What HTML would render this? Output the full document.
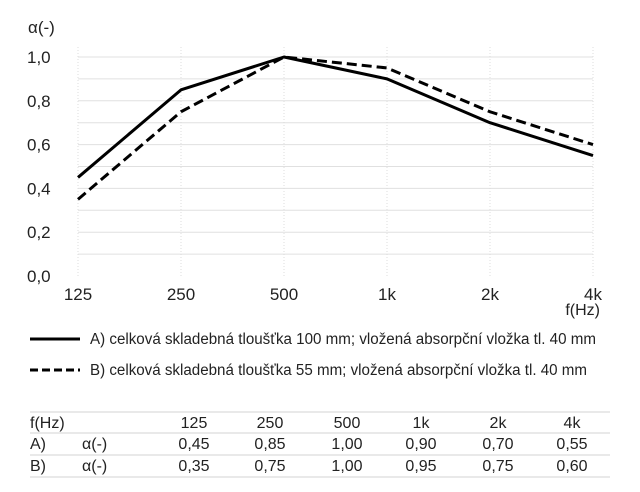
<!DOCTYPE html>
<html><head><meta charset="utf-8"><style>
body{margin:0;background:#fff}
svg{display:block;font-family:"Liberation Sans",Arial,sans-serif}
</style></head><body>
<svg id="c" width="640" height="492" viewBox="0 0 640 492" xmlns="http://www.w3.org/2000/svg">
<g id="grid"></g><g id="axes"></g><g id="series"></g>
<text x="28" y="33" font-size="17" fill="#222">α(-)</text>
<text x="600" y="315" font-size="16" fill="#222" text-anchor="end">f(Hz)</text>
<g>
<line x1="30" y1="339" x2="80" y2="339" stroke="#000" stroke-width="3"/>
<text x="90" y="344" font-size="15.5" fill="#222" textLength="506" lengthAdjust="spacingAndGlyphs">A) celková skladebná tloušťka 100 mm; vložená absorpční vložka tl. 40 mm</text>
<line x1="30" y1="370" x2="80" y2="370" stroke="#000" stroke-width="3" stroke-dasharray="8,4"/>
<text x="90" y="375" font-size="15.5" fill="#222" textLength="497" lengthAdjust="spacingAndGlyphs">B) celková skladebná tloušťka 55 mm; vložená absorpční vložka tl. 40 mm</text>
</g>
<g id="table"></g>
</svg>
<script>
const categories=["125","250","500","1k","2k","4k"];
const seriesA=[0.45,0.85,1.00,0.90,0.70,0.55];
const seriesB=[0.35,0.75,1.00,0.95,0.75,0.60];
const yTicks=[0,0.2,0.4,0.6,0.8,1.0];
const yTickLabels=["0,0","0,2","0,4","0,6","0,8","1,0"];
const tableA=["0,45","0,85","1,00","0,90","0,70","0,55"];
const tableB=["0,35","0,75","1,00","0,95","0,75","0,60"];
const NS="http://www.w3.org/2000/svg";
const x0=78,x1=593,y0=276,y1=57;
function xs(i){return x0+i*(x1-x0)/(categories.length-1);}
function ys(v){return y0-v*(y0-y1);}
function mk(p,tag,at,txt){const e=document.createElementNS(NS,tag);for(const k in at)e.setAttribute(k,at[k]);if(txt!==undefined)e.textContent=txt;p.appendChild(e);return e;}
const grid=document.getElementById('grid'),axes=document.getElementById('axes'),ser=document.getElementById('series'),tb=document.getElementById('table');
for(let k=1;k<=10;k++){const l=mk(grid,'line',{x1:x0,x2:x1,y1:ys(k/10),y2:ys(k/10),stroke:'#e0e0e0','stroke-width':1});

}
categories.forEach((c,i)=>{const l=mk(grid,'line',{x1:xs(i),x2:xs(i),y1:y1-10,y2:y0,stroke:'#ddd','stroke-width':1,'stroke-dasharray':'1,2'});


const t=mk(axes,'text',{x:xs(i),y:300,'font-size':17,'text-anchor':'middle',fill:'#222'},c);

});
yTicks.forEach((v,i)=>{const t=mk(axes,'text',{x:27,y:ys(v)+6,'font-size':17,fill:'#222'},yTickLabels[i]);

});
function pts(s){return s.map((v,i)=>xs(i)+','+ys(v)).join(' ');}
const pb=mk(ser,'polyline',{points:pts(seriesB),fill:'none',stroke:'#000','stroke-width':3,'stroke-dasharray':'10,5','stroke-linejoin':'round'});


const pa=mk(ser,'polyline',{points:pts(seriesA),fill:'none',stroke:'#000','stroke-width':3,'stroke-linejoin':'round'});


[412,433,455,477].forEach(y=>{const l=mk(tb,'line',{x1:30,x2:610,y1:y,y2:y,stroke:'#e2e2e2','stroke-width':1.5});

});
const cols=[194,270,347,421,498,572];
const rows=[[ "f(Hz)","",categories,428],["A)","α(-)",tableA,449],["B)","α(-)",tableB,471]];
rows.forEach(r=>{const a=mk(tb,'text',{x:30,y:r[3],'font-size':16,fill:'#222'},r[0]);


if(r[1]){const b=mk(tb,'text',{x:82,y:r[3],'font-size':16,fill:'#222'},r[1]);

}
r[2].forEach((v,i)=>{const t=mk(tb,'text',{x:cols[i],y:r[3],'font-size':16,'text-anchor':'middle',fill:'#222'},v);

});});
</script>
</body></html>
